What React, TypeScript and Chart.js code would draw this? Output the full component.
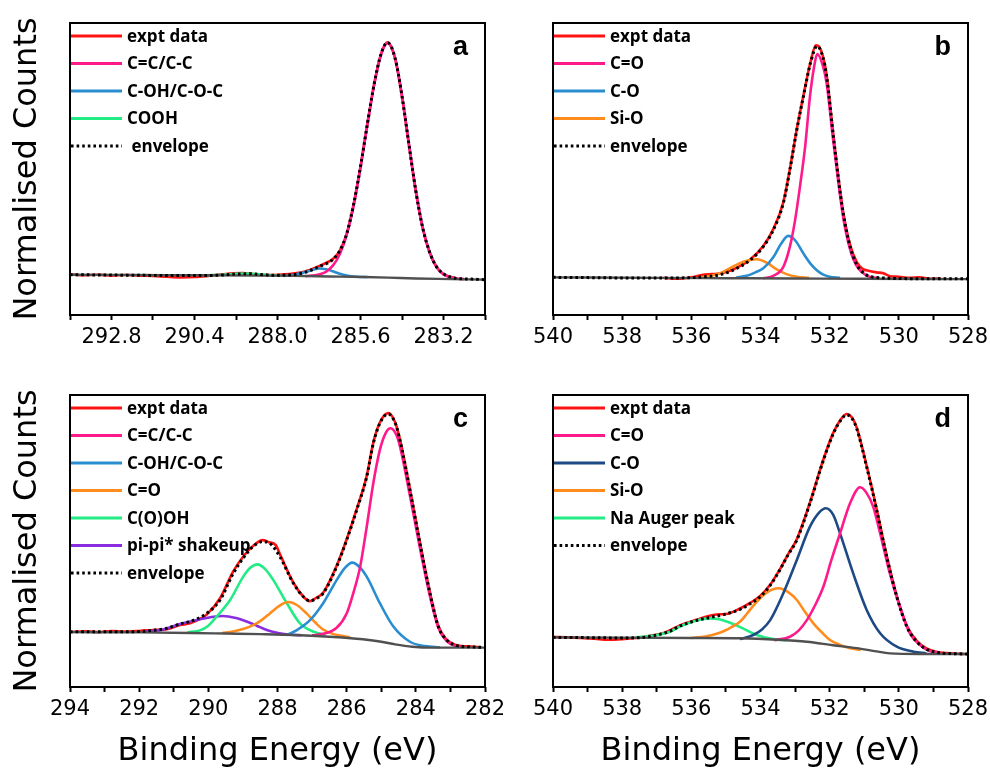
import React, { useEffect, useRef } from 'react';
import { Chart, registerables } from 'chart.js';

Chart.register(...registerables);

type Pt = [number, number];

// ---------------- Panel a : C 1s ----------------
const A_TICKS = [282, 283.2, 284.4, 285.6, 286.8, 288.0, 289.2, 290.4, 291.6, 292.8, 294];
const A_TICK_LABELS = [283.2, 285.6, 288.0, 290.4, 292.8];
const A_LABELS = ['expt data', 'C=C/C-C', 'C-OH/C-O-C', 'COOH', ' envelope'];
const A_EXPT: Pt[] = [[294, 13.9], [293.6, 13.6], [293.2, 13.8], [292.8, 13.5], [292.4, 13.7], [292, 13.5], [291.6, 13.4], [291.2, 13.1], [290.8, 12.9], [290.4, 13.0], [290.0, 13.4], [289.6, 13.9], [289.3, 14.3], [289.0, 14.4], [288.7, 14.0], [288.4, 13.7], [288.1, 13.7], [287.8, 13.9], [287.5, 14.3], [287.2, 14.9], [286.9, 16.2], [286.6, 17.8], [286.4, 19.2], [286.2, 22.0], [286.0, 27.8], [285.8, 37.8], [285.6, 50.8], [285.4, 65.5], [285.2, 79.4], [285.0, 89.6], [284.82, 93.4], [284.6, 88.0], [284.4, 75.0], [284.2, 58.5], [284.0, 42.5], [283.8, 29.8], [283.6, 21.5], [283.4, 16.5], [283.2, 14.0], [283.0, 13.0], [282.85, 12.7]];
const A_CC: Pt[] = [[287.2, 13.3], [287.0, 13.5], [286.8, 13.9], [286.6, 14.8], [286.4, 16.9], [286.2, 20.8], [286.0, 27.4], [285.8, 37.4], [285.6, 50.5], [285.4, 65.3], [285.2, 79.2], [285.0, 89.4], [284.82, 93.1], [284.6, 87.8], [284.4, 74.8], [284.2, 58.3], [284.0, 42.3], [283.8, 29.6], [283.6, 21.3], [283.4, 16.3], [283.2, 13.9], [283.0, 12.9], [282.8, 12.5], [282.6, 12.3]];
const A_COH: Pt[] = [[287.8, 13.4], [287.5, 13.8], [287.2, 14.7], [287.0, 15.4], [286.8, 15.9], [286.6, 15.7], [286.4, 15.0], [286.2, 14.1], [286.0, 13.5], [285.7, 13.1], [285.4, 13.0]];
const A_COOH: Pt[] = [[290.0, 13.6], [289.6, 13.8], [289.2, 14.1], [288.9, 14.2], [288.6, 14.0], [288.2, 13.6], [287.9, 13.5]];
const A_ENV: Pt[] = [[294, 13.8], [293, 13.7], [292, 13.6], [291, 13.5], [290.2, 13.5], [289.6, 13.7], [289.2, 14.0], [288.8, 14.1], [288.4, 13.8], [288.0, 13.6], [287.6, 13.8], [287.3, 14.3], [287.0, 15.5], [286.8, 16.6], [286.6, 17.5], [286.4, 19.0], [286.2, 22.0], [286.0, 27.8], [285.8, 37.8], [285.6, 50.8], [285.4, 65.5], [285.2, 79.4], [285.0, 89.6], [284.82, 93.3], [284.6, 88.0], [284.4, 75.0], [284.2, 58.5], [284.0, 42.5], [283.8, 29.8], [283.6, 21.5], [283.4, 16.5], [283.2, 14.1], [283.0, 13.0], [282.8, 12.5], [282.4, 12.3], [282, 12.1]];
const A_BG: Pt[] = [[294, 13.8], [292, 13.7], [290, 13.6], [288.5, 13.5], [287.5, 13.4], [286.5, 13.2], [285.5, 13.0], [284.8, 12.8], [284, 12.5], [283, 12.3], [282, 12.1]];

// ---------------- Panel b : O 1s ----------------
const B_TICKS = [528, 529, 530, 531, 532, 533, 534, 535, 536, 537, 538, 539, 540];
const B_TICK_LABELS = [528, 530, 532, 534, 536, 538, 540];
const B_LABELS = ['expt data', 'C=O', 'C-O', 'Si-O', 'envelope'];
const B_EXPT: Pt[] = [[536.8, 12.7], [536.4, 12.4], [536.0, 12.9], [535.7, 13.7], [535.4, 14.0], [535.17, 14.2], [534.79, 15.6], [534.3, 19.0], [533.92, 23.6], [533.63, 29.4], [533.34, 38.6], [533.15, 50.0], [532.95, 63.7], [532.76, 75.1], [532.55, 86.8], [532.4, 92.4], [532.3, 91.8], [532.2, 88.8], [532.09, 82.3], [531.9, 62.3], [531.75, 47.3], [531.61, 35.3], [531.41, 24.0], [531.22, 18.2], [531.05, 15.8], [530.85, 15.1], [530.64, 14.6], [530.45, 14.3], [530.26, 13.3], [530.0, 13.1], [529.7, 12.7], [529.4, 12.9], [529.1, 12.4], [528.8, 12.6]];
const B_CO: Pt[] = [[533.92, 12.6], [533.63, 13.4], [533.34, 16.5], [533.15, 23.4], [533.0, 32.5], [532.86, 43.9], [532.71, 57.6], [532.57, 74.8], [532.45, 85.0], [532.36, 89.4], [532.2, 85.5], [532.09, 79.5], [531.9, 60.0], [531.75, 45.5], [531.61, 33.5], [531.41, 22.5], [531.22, 16.8], [530.93, 13.5], [530.55, 12.6]];
const B_COX: Pt[] = [[534.7, 12.8], [534.4, 13.4], [534.15, 14.6], [533.92, 16.0], [533.63, 19.8], [533.4, 24.5], [533.2, 27.1], [533.0, 25.6], [532.76, 21.1], [532.55, 17.5], [532.38, 15.4], [532.2, 13.9], [532.0, 13.1], [531.7, 12.7]];
const B_SIO: Pt[] = [[535.7, 12.9], [535.4, 13.5], [535.17, 14.3], [534.79, 16.6], [534.45, 18.4], [534.11, 19.1], [533.8, 17.8], [533.53, 15.6], [533.25, 14.0], [532.95, 13.1], [532.6, 12.7]];
const B_ENV: Pt[] = [[540, 12.9], [539, 12.8], [538, 12.7], [537, 12.7], [536.4, 12.7], [536.0, 12.8], [535.6, 13.1], [535.17, 13.8], [534.79, 15.4], [534.3, 18.8], [533.92, 23.4], [533.63, 29.1], [533.34, 38.3], [533.15, 49.7], [532.95, 63.4], [532.76, 74.8], [532.55, 86.5], [532.36, 92.1], [532.2, 88.5], [532.09, 82.0], [531.9, 62.0], [531.75, 47.0], [531.61, 35.0], [531.41, 23.5], [531.22, 17.3], [531.0, 14.2], [530.8, 13.1], [530.5, 12.7], [530, 12.5], [529, 12.4], [528, 12.4]];
const B_BG: Pt[] = [[540, 12.9], [537, 12.7], [535, 12.6], [533, 12.5], [531, 12.4], [528, 12.3]];

// ---------------- Panel c : C 1s ----------------
const C_TICKS = [282, 283, 284, 285, 286, 287, 288, 289, 290, 291, 292, 293, 294];
const C_TICK_LABELS = [282, 284, 286, 288, 290, 292, 294];
const C_LABELS = ['expt data', 'C=C/C-C', 'C-OH/C-O-C', 'C=O', 'C(O)OH', 'pi-pi* shakeup', 'envelope'];
const C_EXPT: Pt[] = [[294, 18.8], [293.6, 19.1], [293.2, 18.8], [292.8, 19.2], [292.4, 19.0], [292.0, 19.2], [291.6, 19.5], [291.2, 19.8], [290.82, 21.2], [290.53, 21.8], [290.2, 23.6], [290.05, 24.8], [289.66, 30.4], [289.28, 39.6], [288.95, 45.3], [288.7, 48.4], [288.43, 50.3], [288.25, 49.6], [288.05, 48.6], [287.93, 45.5], [287.54, 35.7], [287.25, 30.9], [287.06, 29.4], [286.9, 30.4], [286.68, 32.3], [286.29, 41.5], [286.0, 50.6], [285.71, 60.9], [285.42, 72.3], [285.23, 83.7], [285.04, 90.6], [284.8, 93.8], [284.6, 90.7], [284.46, 84.8], [284.17, 67.7], [283.88, 49.4], [283.59, 32.3], [283.35, 20.9], [283.1, 16.1], [282.85, 14.4], [282.5, 13.9], [282.1, 13.6]];
const C_CC: Pt[] = [[287.0, 17.7], [286.68, 18.2], [286.29, 20.3], [286.0, 25.2], [285.81, 32.1], [285.61, 41.2], [285.42, 54.9], [285.23, 69.8], [285.04, 81.2], [284.88, 86.8], [284.73, 88.6], [284.55, 86.0], [284.46, 82.5], [284.17, 65.5], [283.88, 47.5], [283.59, 31.0], [283.35, 20.3], [283.1, 15.6], [282.85, 14.0], [282.6, 13.6]];
const C_COH: Pt[] = [[287.7, 18.0], [287.44, 19.5], [287.06, 22.9], [286.68, 28.7], [286.29, 36.6], [286.05, 40.8], [285.84, 42.6], [285.62, 41.0], [285.42, 37.8], [285.04, 28.7], [284.65, 20.7], [284.17, 15.5], [283.73, 14.0], [283.3, 13.6]];
const C_CEO: Pt[] = [[289.6, 18.5], [289.28, 19.0], [288.95, 20.0], [288.7, 21.2], [288.45, 23.0], [288.22, 25.2], [287.95, 27.8], [287.69, 29.1], [287.43, 28.0], [287.16, 25.2], [286.9, 22.0], [286.68, 19.7], [286.4, 18.2], [286.19, 17.6], [285.9, 17.0]];
const C_COOH: Pt[] = [[290.6, 18.7], [290.24, 19.4], [290.0, 21.0], [289.76, 24.1], [289.37, 29.8], [288.99, 37.8], [288.78, 40.9], [288.58, 42.0], [288.35, 40.3], [288.12, 36.6], [287.73, 28.7], [287.35, 21.8], [286.97, 19.0], [286.6, 17.8]];
const C_PI: Pt[] = [[291.8, 18.9], [291.3, 19.7], [290.82, 21.6], [290.24, 23.2], [289.9, 24.0], [289.57, 24.3], [289.2, 23.6], [288.89, 22.4], [288.6, 21.0], [288.31, 19.5], [287.95, 18.4], [287.63, 17.9], [287.3, 17.7]];
const C_ENV: Pt[] = [[294, 18.9], [293, 18.9], [292, 19.0], [291.6, 19.4], [291.2, 20.1], [290.82, 21.6], [290.53, 22.4], [290.05, 25.2], [289.66, 29.8], [289.28, 38.9], [288.95, 44.8], [288.7, 48.2], [288.43, 49.8], [288.2, 49.0], [287.93, 44.6], [287.54, 35.5], [287.25, 30.9], [287.06, 29.5], [286.9, 30.2], [286.68, 32.1], [286.29, 41.2], [286.0, 50.3], [285.71, 60.6], [285.42, 72.0], [285.23, 83.4], [285.04, 90.3], [284.8, 93.5], [284.6, 90.5], [284.46, 84.6], [284.17, 67.5], [283.88, 49.2], [283.59, 32.1], [283.35, 20.7], [283.1, 16.0], [282.85, 14.3], [282.5, 13.8], [282, 13.6]];
const C_BG: Pt[] = [[294, 18.8], [292, 18.7], [290.5, 18.5], [289.5, 18.3], [288.5, 18.1], [287.5, 17.8], [286.5, 17.2], [285.8, 16.6], [285.3, 16.0], [285.0, 15.5], [284.6, 14.6], [284.1, 13.8], [283.5, 13.5], [282, 13.5]];

// ---------------- Panel d : O 1s ----------------
const D_TICKS = [528, 529, 530, 531, 532, 533, 534, 535, 536, 537, 538, 539, 540];
const D_TICK_LABELS = [528, 530, 532, 534, 536, 538, 540];
const D_LABELS = ['expt data', 'C=O', 'C-O', 'Si-O', 'Na Auger peak', 'envelope'];
const D_EXPT: Pt[] = [[540, 17.1], [539.6, 17.0], [539.2, 16.8], [538.8, 16.5], [538.4, 16.2], [538.0, 16.4], [537.6, 16.8], [537.2, 17.5], [536.8, 18.5], [536.33, 21.1], [535.85, 23.0], [535.5, 24.3], [535.2, 24.9], [535.0, 25.0], [534.59, 26.9], [534.3, 28.8], [534.01, 31.2], [533.72, 35.0], [533.44, 40.3], [533.2, 45.5], [532.95, 50.6], [532.57, 63.2], [532.18, 78.0], [531.89, 87.2], [531.7, 91.3], [531.51, 93.5], [531.35, 92.2], [531.22, 88.9], [530.93, 75.7], [530.64, 60.9], [530.35, 44.9], [530.06, 31.2], [529.77, 21.0], [529.48, 15.8], [529.2, 13.2], [528.9, 12.0], [528.6, 11.6], [528.3, 11.4], [528.1, 11.3]];
const D_CO: Pt[] = [[533.6, 16.0], [533.15, 17.2], [532.9, 19.3], [532.66, 22.9], [532.4, 28.5], [532.18, 34.4], [531.95, 43.5], [531.7, 52.6], [531.41, 62.9], [531.12, 68.4], [530.93, 66.4], [530.74, 61.7], [530.54, 52.6], [530.26, 38.9], [529.97, 27.5], [529.68, 18.4], [529.39, 14.4], [529.1, 12.3], [528.8, 11.6]];
const D_COX: Pt[] = [[534.6, 16.4], [534.21, 17.8], [533.95, 19.8], [533.72, 22.9], [533.34, 32.1], [532.95, 43.5], [532.57, 54.9], [532.3, 59.8], [532.11, 61.2], [531.9, 59.0], [531.7, 52.6], [531.32, 38.9], [530.93, 26.4], [530.54, 18.4], [530.06, 13.8], [529.58, 12.1], [529.2, 11.5]];
const D_SIO: Pt[] = [[536.0, 16.8], [535.6, 17.3], [535.2, 18.5], [534.98, 19.6], [534.59, 22.4], [534.4, 25.0], [534.11, 29.2], [533.8, 32.5], [533.48, 33.8], [533.2, 32.5], [532.95, 29.8], [532.7, 25.5], [532.47, 21.8], [532.2, 18.4], [531.99, 16.1], [531.7, 14.4], [531.41, 13.3], [531.1, 12.7]];
const D_NA: Pt[] = [[537.6, 17.0], [537.0, 17.8], [536.6, 19.0], [536.33, 20.7], [535.85, 22.8], [535.46, 23.5], [535.2, 23.2], [534.98, 22.4], [534.59, 20.5], [534.11, 17.8], [533.63, 16.4], [533.24, 16.0]];
const D_ENV: Pt[] = [[540, 17.0], [539, 16.9], [538, 16.8], [537.5, 16.9], [537.0, 17.8], [536.6, 19.2], [536.33, 20.9], [535.85, 22.8], [535.46, 23.8], [535.07, 24.8], [534.59, 26.6], [534.3, 28.5], [534.01, 30.9], [533.72, 34.8], [533.44, 40.1], [533.2, 45.3], [532.95, 50.3], [532.57, 62.9], [532.18, 77.7], [531.89, 86.9], [531.7, 91.0], [531.51, 93.2], [531.35, 91.9], [531.22, 88.6], [530.93, 75.4], [530.64, 60.6], [530.35, 44.6], [530.06, 30.9], [529.77, 20.7], [529.48, 15.5], [529.2, 12.9], [528.8, 11.7], [528.4, 11.4], [528, 11.3]];
const D_BG: Pt[] = [[540, 17.0], [538, 16.9], [536, 16.8], [534.59, 16.7], [533.5, 16.2], [532.66, 15.5], [531.9, 14.3], [531.22, 13.3], [530.7, 12.3], [530.26, 11.5], [529.4, 11.3], [528, 11.3]];

const X_TITLE = 'Binding Energy (eV)';
const Y_TITLE = 'Normalised Counts';

// ---------------- styles ----------------
const RED = '#ff1212';
const PINK = '#ff1a8c';
const BLUE = '#2a8dd0';
const NAVY = '#1d4a84';
const GREEN = '#22ec84';
const ORANGE = '#ff8c1c';
const PURPLE = '#8a2ce0';
const GRAY = '#505050';
const BLACK = '#000000';
const DOT = [2.6, 3];

interface SeriesDef { data: Pt[]; color: string; width: number; dash?: number[]; order: number }
interface PanelDef {
  letter: string; min: number; max: number; ticks: number[]; tickLabels: number[]; decimals: number;
  labels: string[]; legend: SeriesDef[]; background: Pt[];
  yTitle: boolean; xTitle: boolean; z: number;
  box: { left: number; top: number; width: number; height: number };
  area: { left: number; top: number; right: number; bottom: number };
}

const expt = (d: Pt[]): SeriesDef => ({ data: d, color: RED, width: 2.6, order: 9 });
const comp = (d: Pt[], c: string, o: number): SeriesDef => ({ data: d, color: c, width: 2.6, order: o });
const env = (d: Pt[]): SeriesDef => ({ data: d, color: BLACK, width: 3, dash: DOT, order: 0 });

const PANELS: PanelDef[] = [
  {
    letter: 'a', min: 282, max: 294, ticks: A_TICKS, tickLabels: A_TICK_LABELS, decimals: 1,
    labels: A_LABELS,
    legend: [expt(A_EXPT), comp(A_CC, PINK, 2), comp(A_COH, BLUE, 3), comp(A_COOH, GREEN, 4), env(A_ENV)],
    background: A_BG, yTitle: true, xTitle: false, z: 2,
    box: { left: 0, top: 0, width: 540, height: 380 },
    area: { left: 70, top: 23, right: 485, bottom: 315 },
  },
  {
    letter: 'b', min: 528, max: 540, ticks: B_TICKS, tickLabels: B_TICK_LABELS, decimals: 0,
    labels: B_LABELS,
    legend: [expt(B_EXPT), comp(B_CO, PINK, 2), comp(B_COX, BLUE, 3), comp(B_SIO, ORANGE, 4), env(B_ENV)],
    background: B_BG, yTitle: false, xTitle: false, z: 1,
    box: { left: 495, top: 0, width: 540, height: 380 },
    area: { left: 58, top: 23, right: 473, bottom: 315 },
  },
  {
    letter: 'c', min: 282, max: 294, ticks: C_TICKS, tickLabels: C_TICK_LABELS, decimals: 0,
    labels: C_LABELS,
    legend: [expt(C_EXPT), comp(C_CC, PINK, 2), comp(C_COH, BLUE, 3), comp(C_CEO, ORANGE, 4), comp(C_COOH, GREEN, 5), comp(C_PI, PURPLE, 6), env(C_ENV)],
    background: C_BG, yTitle: true, xTitle: true, z: 2,
    box: { left: 0, top: 380, width: 540, height: 391 },
    area: { left: 70, top: 15, right: 485, bottom: 307 },
  },
  {
    letter: 'd', min: 528, max: 540, ticks: D_TICKS, tickLabels: D_TICK_LABELS, decimals: 0,
    labels: D_LABELS,
    legend: [expt(D_EXPT), comp(D_CO, PINK, 2), comp(D_COX, NAVY, 3), comp(D_SIO, ORANGE, 4), comp(D_NA, GREEN, 5), env(D_ENV)],
    background: D_BG, yTitle: false, xTitle: true, z: 1,
    box: { left: 495, top: 380, width: 540, height: 391 },
    area: { left: 58, top: 15, right: 473, bottom: 307 },
  },
];

const TICK_FONT = { family: '"DejaVu Sans", sans-serif', size: 21 };
const TITLE_FONT = { family: '"DejaVu Sans", sans-serif', size: 32 };

function makeChart(canvas: HTMLCanvasElement, p: PanelDef): Chart {
  const toDs = (s: SeriesDef) => ({
    data: s.data.map(([x, y]) => ({ x, y })),
    borderColor: s.color,
    backgroundColor: s.color,
    borderWidth: s.width,
    borderDash: s.dash ?? [],
    borderCapStyle: 'butt' as const,
    pointRadius: 0,
    fill: false,
    cubicInterpolationMode: 'monotone' as const,
    order: s.order,
  });
  const datasets: any[] = p.legend.map(toDs);
  datasets.push(toDs({ data: p.background, color: GRAY, width: 2.4, order: 1 }));

  const decor = {
    id: 'decor',
    afterDraw(chart: any) {
      const { ctx, chartArea: a } = chart;
      ctx.save();
      ctx.setLineDash([]);
      ctx.strokeStyle = '#000';
      ctx.lineWidth = 2;
      ctx.strokeRect(a.left, a.top, a.right - a.left, a.bottom - a.top);
      ctx.font = 'bold 17px "Open Sans", sans-serif';
      ctx.textAlign = 'left';
      ctx.textBaseline = 'middle';
      p.legend.forEach((s, i) => {
        const y = a.top + 13 + i * 27.5;
        ctx.beginPath();
        ctx.setLineDash(s.dash ?? []);
        ctx.strokeStyle = s.color;
        ctx.lineWidth = 3;
        ctx.moveTo(a.left + 1, y);
        ctx.lineTo(a.left + 52, y);
        ctx.stroke();
        ctx.setLineDash([]);
        ctx.fillStyle = '#000';
        ctx.fillText(p.labels[i], a.left + 57, y + 1);
      });
      ctx.font = 'bold 27px "Liberation Sans", Arial, sans-serif';
      ctx.textAlign = 'right';
      ctx.textBaseline = 'alphabetic';
      ctx.fillStyle = '#000';
      ctx.fillText(p.letter, a.right - 17, a.top + 32);
      ctx.restore();
    },
  };

  return new Chart(canvas, {
    type: 'line',
    data: { datasets },
    options: {
      responsive: false,
      animation: false,
      devicePixelRatio: 1,
      events: [],
      layout: { padding: { top: p.area.top, right: p.box.width - p.area.right, left: 0, bottom: 0 } },
      plugins: { legend: { display: false }, tooltip: { enabled: false }, title: { display: false } },
      scales: {
        x: {
          type: 'linear',
          min: p.min,
          max: p.max,
          reverse: true,
          afterBuildTicks: (axis: any) => { axis.ticks = p.ticks.map((v) => ({ value: v })); },
          afterFit: (axis: any) => { axis.height = p.box.height - p.area.bottom; },
          ticks: {
            autoSkip: false, maxRotation: 0, minRotation: 0, padding: 5, color: '#000', font: TICK_FONT,
            callback: (v: any) => (p.tickLabels.some((t) => Math.abs(t - Number(v)) < 1e-6) ? Number(v).toFixed(p.decimals) : ''),
          },
          grid: { display: true, drawOnChartArea: false, drawTicks: true, tickLength: 5, tickWidth: 2, tickColor: '#000', color: '#000' },
          border: { display: false },
          title: { display: p.xTitle, text: X_TITLE, color: '#000', font: TITLE_FONT, padding: 0 },
        },
        y: {
          type: 'linear',
          min: 0,
          max: 100,
          ticks: { display: false },
          grid: { display: false },
          border: { display: false },
          afterFit: (axis: any) => { axis.width = p.area.left; },
          title: { display: p.yTitle, text: Y_TITLE, color: '#000', font: TITLE_FONT, padding: { top: 8, bottom: 0 } },
        },
      },
    } as any,
    plugins: [decor],
  });
}

function Panel({ p }: { p: PanelDef }) {
  const ref = useRef<HTMLCanvasElement | null>(null);
  useEffect(() => {
    if (!ref.current) return;
    const chart = makeChart(ref.current, p);
    return () => chart.destroy();
  }, [p]);
  return (
    <canvas
      ref={ref}
      width={p.box.width}
      height={p.box.height}
      style={{ position: 'absolute', left: p.box.left, top: p.box.top, width: p.box.width, height: p.box.height, zIndex: p.z }}
    />
  );
}

export default function App() {
  return (
    <div style={{ position: 'absolute', left: 0, top: 0, width: 990, height: 771, overflow: 'hidden', background: '#fff' }}>
      {PANELS.map((p) => (
        <Panel key={p.letter} p={p} />
      ))}
    </div>
  );
}
